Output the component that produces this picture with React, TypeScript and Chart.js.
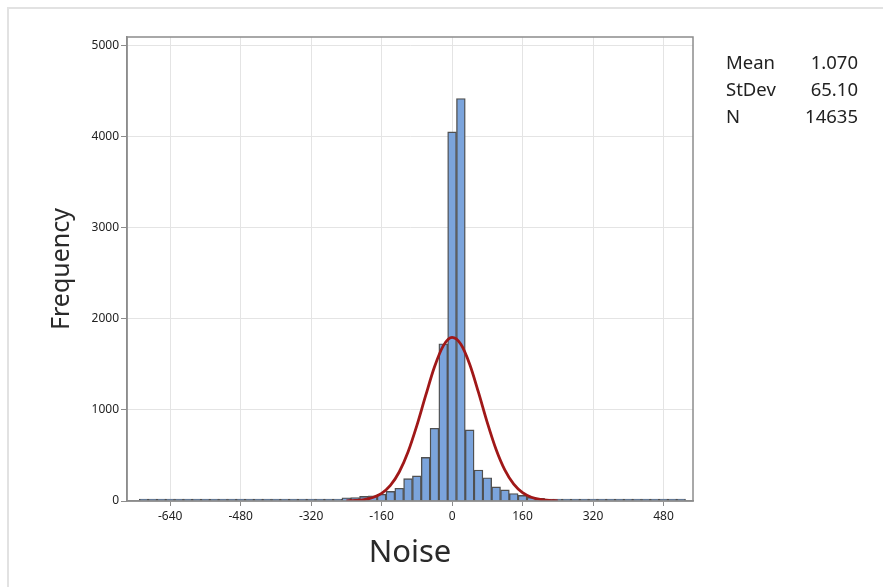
import React, { useEffect, useRef } from "react";
import { Chart, registerables } from "chart.js";

Chart.register(...registerables);

// Histogram bin centers (bin width 20)
const binCenters = [
  -700, -680, -660, -640, -620, -600, -580, -560, -540, -520, -500, -480, -460, -440, -420,
  -400, -380, -360, -340, -320, -300, -280, -260, -240, -220, -200, -180, -160, -140, -120,
  -100, -80, -60, -40, -20, 0, 20, 40, 60, 80, 100, 120, 140, 160, 180, 200, 220, 240, 260,
  280, 300, 320, 340, 360, 380, 400, 420, 440, 460, 480, 500, 520,
];
// Frequencies per bin
const binCounts = [
  2, 1, 1, 2, 1, 2, 1, 2, 2, 1, 2, 3, 2, 3, 2,
  3, 4, 3, 5, 6, 8, 10, 20, 35, 38, 50, 58, 75, 105, 140,
  245, 275, 478, 798, 1725, 4050, 4415, 780, 340, 255, 155, 122, 82, 62, 40, 30, 22, 16, 10,
  6, 5, 4, 3, 3, 2, 2, 1, 2, 1, 1, 1, 2,
];
// Fitted normal curve
const curveX = [
  -240, -220, -200, -180, -160, -140, -120, -100, -80, -60, -40, -20, 0, 20, 40, 60, 80, 100,
  120, 140, 160, 180, 200, 220, 240,
];
const curveY = [
  2, 6, 15, 38, 84, 171, 318, 537, 826, 1155, 1470, 1702, 1794, 1719, 1500, 1191, 860, 565,
  338, 184, 91, 41, 17, 6, 2,
];
const xTickValues = [-640, -480, -320, -160, 0, 160, 320, 480];
const yTickValues = [0, 1000, 2000, 3000, 4000, 5000];
const statLabels = ["Mean", "StDev", "N"];
const statValues = ["1.070", "65.10", "14635"];

const FONT = "'Noto Sans', 'Open Sans', sans-serif";

export default function App() {
  const ref = useRef<HTMLCanvasElement | null>(null);

  useEffect(() => {
    if (!ref.current) return;
    const framePlugin = {
      id: "frame",
      afterDatasetsDraw(chart: any) {
        const { ctx, chartArea: a } = chart;
        ctx.save();
        ctx.strokeStyle = "#8c8c8c";
        ctx.lineWidth = 1.5;
        ctx.strokeRect(a.left, a.top, a.right - a.left, a.bottom - a.top);
        ctx.restore();
      },
    };
    const chart = new Chart(ref.current, {
      type: "bar",
      data: {
        datasets: [
          {
            type: "line",
            data: curveX.map((x, i) => ({ x, y: curveY[i] })),
            borderColor: "#a01818",
            borderWidth: 2.8,
            pointRadius: 0,
            cubicInterpolationMode: "monotone",
            order: 0,
          } as any,
          {
            type: "bar",
            data: binCenters.map((x, i) => ({ x, y: binCounts[i] })),
            backgroundColor: "#7ba4dc",
            borderColor: "#505050",
            borderWidth: 1.4,
            barPercentage: 1,
            categoryPercentage: 1,
            minBarLength: 2,
            order: 1,
          } as any,
        ],
      },
      options: {
        responsive: false,
        animation: false,
        layout: { padding: { top: 37, right: 190, left: 0, bottom: 0 } },
        plugins: { legend: { display: false }, tooltip: { enabled: false } },
        scales: {
          x: {
            type: "linear",
            min: -738,
            max: 547,
            offset: false,
            grid: {
              offset: false,
              color: "#e4e4e4",
              lineWidth: 1,
              tickColor: "#8c8c8c",
              tickLength: 5,
            },
            border: { display: true, color: "#8c8c8c", width: 1.5 },
            ticks: {
              font: { family: FONT, size: 12 },
              color: "#222222",
              padding: 3,
              autoSkip: false,
              maxRotation: 0,
              callback: (v: any) => String(v),
            },
            afterBuildTicks: (s: any) => {
              s.ticks = xTickValues.map((v) => ({ value: v }));
            },
            afterFit: (s: any) => {
              s.height = 86;
            },
            title: {
              display: true,
              text: "Noise",
              color: "#2a2a2a",
              font: { family: FONT, size: 31 },
              padding: { top: 0, bottom: 15 },
            },
          },
          y: {
            type: "linear",
            min: 0,
            max: 5090,
            grid: {
              color: "#e4e4e4",
              lineWidth: 1,
              tickColor: "#8c8c8c",
              tickLength: 6,
            },
            border: { display: true, color: "#8c8c8c", width: 1.5 },
            ticks: {
              font: { family: FONT, size: 12 },
              color: "#222222",
              padding: 2,
              callback: (v: any) => String(v),
            },
            afterBuildTicks: (s: any) => {
              s.ticks = yTickValues.map((v) => ({ value: v }));
            },
            afterFit: (s: any) => {
              s.width = 127;
            },
            title: {
              display: true,
              text: "Frequency",
              color: "#2a2a2a",
              font: { family: FONT, size: 25 },
              padding: { top: 47, bottom: 0 },
            },
          },
        },
      },
      plugins: [framePlugin],
    } as any);
    return () => chart.destroy();
  }, []);

  return (
    <div
      style={{
        position: "absolute",
        left: 0,
        top: 0,
        width: 883,
        height: 587,
        background: "#ffffff",
        overflow: "hidden",
      }}
    >
      <canvas ref={ref} width={883} height={587} style={{ position: "absolute", left: 0, top: 0 }} />
      <div
        style={{
          position: "absolute",
          left: 7,
          top: 7,
          width: 900,
          height: 600,
          borderLeft: "2px solid #e2e2e2",
          borderTop: "2px solid #e2e2e2",
          pointerEvents: "none",
        }}
      />
      {statLabels.map((lab, i) => (
        <div
          key={lab}
          style={{
            position: "absolute",
            left: 726,
            top: 49 + i * 27,
            width: 132,
            display: "flex",
            justifyContent: "space-between",
            fontFamily: FONT,
            fontSize: 18.5,
            lineHeight: "26px",
            color: "#222222",
          }}
        >
          <span>{lab}</span>
          <span>{statValues[i]}</span>
        </div>
      ))}
    </div>
  );
}
